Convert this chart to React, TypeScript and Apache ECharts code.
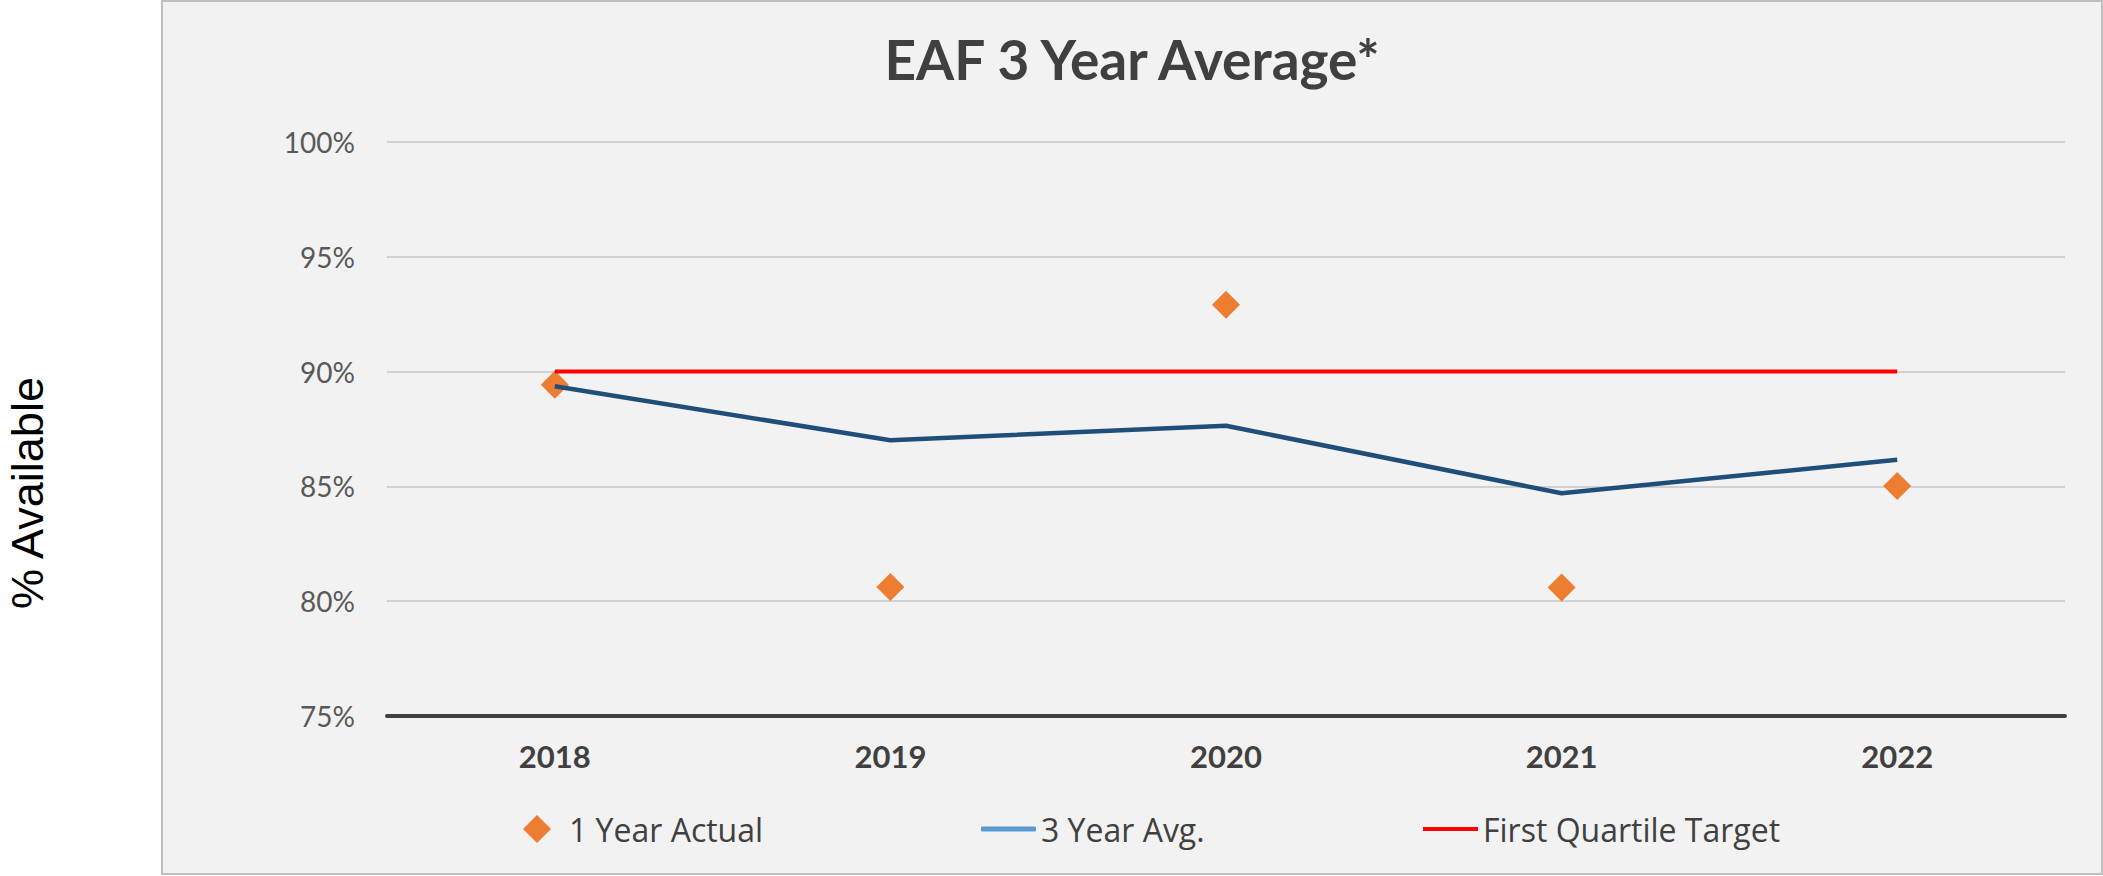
import React, { useEffect, useRef } from "react";
import * as echarts from "echarts";

const categories = ["2018", "2019", "2020", "2021", "2022"];
const oneYearActual = [89.43, 80.62, 92.91, 80.6, 85.02];
const threeYearAvg = [89.36, 87.01, 87.64, 84.7, 86.16];
const firstQuartileTarget = [90, 90, 90, 90, 90];
const yTicks = { min: 75, max: 100, interval: 5 };

export default function App() {
  const ref = useRef<HTMLDivElement>(null);
  useEffect(() => {
    if (!ref.current) return;
    const chart = echarts.init(ref.current, undefined, { renderer: "svg" });
    const legendText = { fontFamily: "Open Sans", fontSize: 32, color: "#404040", lineHeight: 40 };
    chart.setOption({
      animation: false,
      backgroundColor: "#ffffff",
      graphic: [
        {
          type: "rect",
          z: -10,
          silent: true,
          shape: { x: 162, y: 1, width: 1940, height: 873 },
          style: { fill: "#F2F2F2", stroke: "#BFBFBF", lineWidth: 2 },
        },
        {
          type: "text",
          x: 1132,
          y: 59,
          style: {
            text: "EAF 3 Year Average*",
            fontFamily: "Lato",
            fontWeight: "bold",
            fontSize: 55,
            fill: "#404040",
            textAlign: "center",
            textVerticalAlign: "middle",
          },
        },
        {
          type: "text",
          x: 27,
          y: 493,
          rotation: Math.PI / 2,
          style: {
            text: "% Available",
            fontFamily: "Liberation Sans",
            fontSize: 45,
            fill: "#000000",
            textAlign: "center",
            textVerticalAlign: "middle",
          },
        },
      ],
      grid: { left: 387, right: 38, top: 142, bottom: 160, outerBoundsMode: "none", containLabel: false },
      legend: [
        {
          left: 523,
          top: 809,
          padding: 0,
          itemWidth: 28,
          itemHeight: 28,
          data: [{ name: "1 Year Actual", icon: "diamond", itemStyle: { color: "#ED7D31" } }],
          textStyle: { ...legendText, padding: [0, 0, 0, 13] },
        },
        {
          left: 981,
          top: 809,
          padding: 0,
          itemWidth: 55,
          itemHeight: 5,
          data: [{ name: "3 Year Avg.", icon: "roundRect", itemStyle: { color: "#5B9BD5" } }],
          textStyle: legendText,
        },
        {
          left: 1423,
          top: 809,
          padding: 0,
          itemWidth: 55,
          itemHeight: 4,
          data: [{ name: "First Quartile Target", icon: "rect", itemStyle: { color: "#FF0000" } }],
          textStyle: legendText,
        },
      ],
      xAxis: {
        type: "category",
        data: categories,
        boundaryGap: true,
        axisLine: { show: true, lineStyle: { color: "#404040", width: 4 } },
        axisTick: { show: false },
        axisLabel: {
          margin: 24,
          fontFamily: "Lato",
          fontWeight: "bold",
          fontSize: 31,
          color: "#404040",
        },
      },
      yAxis: {
        type: "value",
        min: yTicks.min,
        max: yTicks.max,
        interval: yTicks.interval,
        axisLine: { show: false },
        axisTick: { show: false },
        splitLine: { lineStyle: { color: "#C6C6C6", width: 1.5 } },
        axisLabel: {
          margin: 32,
          fontFamily: "Lato",
          fontSize: 28,
          color: "#595959",
          formatter: (v: number) => `${v}%`,
        },
      },
      series: [
        {
          name: "1 Year Actual",
          type: "scatter",
          data: oneYearActual,
          symbol: "diamond",
          symbolSize: 28,
          itemStyle: { color: "#ED7D31", opacity: 1 },
        },
        {
          name: "3 Year Avg.",
          type: "line",
          data: threeYearAvg,
          symbol: "none",
          lineStyle: { color: "#1F4E79", width: 4.5 },
          itemStyle: { color: "#1F4E79" },
        },
        {
          name: "First Quartile Target",
          type: "line",
          data: firstQuartileTarget,
          symbol: "none",
          lineStyle: { color: "#FF0000", width: 4 },
          itemStyle: { color: "#FF0000" },
        },
      ],
    });
    return () => chart.dispose();
  }, []);
  return (
    <div
      ref={ref}
      style={{ position: "absolute", left: 0, top: 0, width: 2103, height: 876 }}
    />
  );
}
